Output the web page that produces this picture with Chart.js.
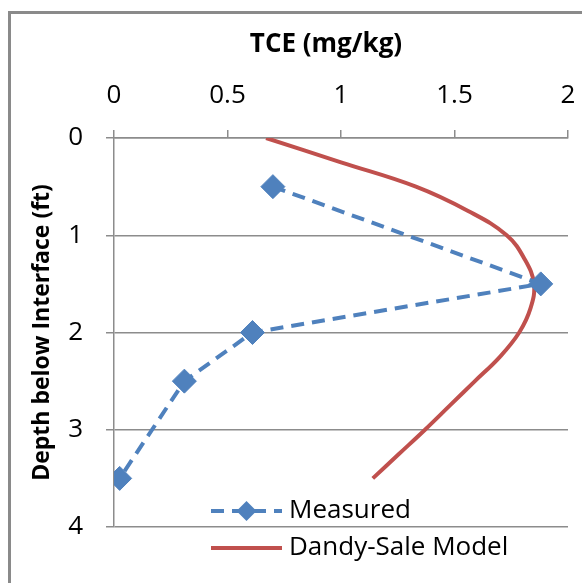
<!DOCTYPE html>
<html>
<head>
<meta charset="utf-8">
<script src="https://cdn.jsdelivr.net/npm/chart.js@4/dist/chart.umd.min.js"></script>
<style>
    html, body { margin: 0; padding: 0; background: #fff; overflow: hidden; }
    #wrap { position: relative; width: 582px; height: 583px; }
    #frame { position: absolute; left: 8px; top: 11px; width: 700px; height: 700px;
             border-left: 3px solid #8a8a8a; border-top: 3px solid #8a8a8a; }
    #chart { position: absolute; left: 0; top: 0; }
</style>
</head>
<body>
<div id="wrap">
    <div id="frame"></div>
    <canvas id="chart" width="582" height="583"></canvas>
</div>
<script>
// ================== Data ==================
const xTitle = "TCE (mg/kg)";
const yTitle = "Depth below Interface (ft)";

// Measured TCE vs depth
const measuredDepth = [0.5, 1.5, 2.0, 2.5, 3.5];
const measuredTCE = [0.70, 1.88, 0.61, 0.31, 0.025];

// Dandy-Sale model curve
const modelDepth = [0, 0.25, 0.5, 0.75, 1.0, 1.25, 1.5, 1.75, 2.0, 2.25, 2.5, 2.75, 3.0, 3.25, 3.5];
const modelTCE = [0.67, 1.0, 1.33, 1.56, 1.73, 1.81, 1.85, 1.835, 1.785, 1.70, 1.59, 1.48, 1.37, 1.255, 1.14];

const xTicks = [0, 0.5, 1, 1.5, 2];
const yTicks = [0, 1, 2, 3, 4];

const BLUE = "#4F81BD";
const RED = "#C0504D";
const GRID = "#8c8c8c";
const FONT = "'Open Sans', 'DejaVu Sans', sans-serif";

// ================== Plugins ==================
// x title sits a little left of centre in the original
const topTitle = {
    id: "topTitle",
    afterDraw(chart) {
        const { ctx, chartArea } = chart;
        ctx.save();
        ctx.fillStyle = "#000";
        ctx.font = "bold 26px " + FONT;
        ctx.textAlign = "center";
        ctx.textBaseline = "middle";
        ctx.fillText(xTitle, (chartArea.left + chartArea.right) / 2 - 15, 45);
        ctx.restore();
    }
};

// Excel style legend: line sample with marker, inside the plot bottom
const lineLegend = {
    id: "lineLegend",
    afterDraw(chart) {
        const { ctx, chartArea } = chart;
        const x0 = chartArea.left + 97;
        const x1 = x0 + 71;
        chart.data.datasets.forEach((ds, i) => {
            const y = chartArea.bottom - 16 + i * 37;
            ctx.save();
            ctx.strokeStyle = ds.borderColor;
            ctx.lineWidth = ds.borderWidth;
            ctx.setLineDash(ds.borderDash || []);
            ctx.beginPath();
            ctx.moveTo(x0, y);
            ctx.lineTo(x1, y);
            ctx.stroke();
            ctx.setLineDash([]);
            if (ds.pointRadius > 0) {
                ctx.fillStyle = ds.pointBackgroundColor;
                Chart.helpers.drawPoint(ctx, { pointStyle: ds.pointStyle, radius: 10, borderWidth: 0 }, (x0 + x1) / 2, y);
            }
            ctx.fillStyle = "#000";
            ctx.font = "26px " + FONT;
            ctx.textBaseline = "middle";
            ctx.fillText(ds.label, x1 + 7, y);
            ctx.restore();
        });
    }
};

// ================== Chart ==================
new Chart(document.getElementById("chart"), {
    type: "scatter",
    data: {
        datasets: [
            {
                label: "Measured",
                data: measuredDepth.map((d, i) => ({ x: measuredTCE[i], y: d })),
                showLine: true,
                borderColor: BLUE,
                borderWidth: 4,
                borderDash: [13, 8],
                tension: 0,
                pointStyle: "rectRot",
                pointRadius: 12,
                pointBackgroundColor: BLUE,
                pointBorderColor: BLUE,
                pointBorderWidth: 1
            },
            {
                label: "Dandy-Sale Model",
                data: modelDepth.map((d, i) => ({ x: modelTCE[i], y: d })),
                showLine: true,
                borderColor: RED,
                borderWidth: 4,
                tension: 0.4,
                pointRadius: 0
            }
        ]
    },
    options: {
        responsive: false,
        devicePixelRatio: 1,
        animation: false,
        layout: { padding: { left: 0, top: 0, right: 14, bottom: 56 } },
        plugins: {
            legend: { display: false },
            tooltip: { enabled: false }
        },
        scales: {
            x: {
                type: "linear",
                position: "top",
                min: 0,
                max: 2,
                afterBuildTicks: (scale) => { scale.ticks = xTicks.map(v => ({ value: v })); },
                afterFit: (scale) => {
                    scale.height = 138;
                    scale.paddingLeft = 0;
                    scale.paddingRight = 0;
                },
                grid: { drawOnChartArea: false, drawTicks: true, tickLength: 8, color: GRID, lineWidth: 1.5 },
                border: { display: true, color: GRID, width: 1.5 },
                ticks: {
                    color: "#000",
                    font: { family: FONT, size: 26 },
                    padding: 19,
                    maxRotation: 0,
                    callback: (v) => String(v)
                },
                title: { display: false }
            },
            y: {
                type: "linear",
                reverse: true,
                min: 0,
                max: 4,
                afterBuildTicks: (scale) => { scale.ticks = yTicks.map(v => ({ value: v })); },
                afterFit: (scale) => {
                    scale.width = 114;
                    scale.paddingTop = 0;
                    scale.paddingBottom = 0;
                },
                grid: { drawOnChartArea: true, drawTicks: true, tickLength: 8, color: GRID, lineWidth: 1.5 },
                border: { display: true, color: GRID, width: 1.5 },
                ticks: {
                    color: "#000",
                    font: { family: FONT, size: 26 },
                    padding: 23,
                    callback: (v) => String(v)
                },
                title: {
                    display: true,
                    text: yTitle,
                    color: "#000",
                    font: { family: FONT, size: 23, weight: "bold" },
                    padding: { top: 29, bottom: 0 }
                }
            }
        }
    },
    plugins: [topTitle, lineLegend]
});
</script>
</body>
</html>
